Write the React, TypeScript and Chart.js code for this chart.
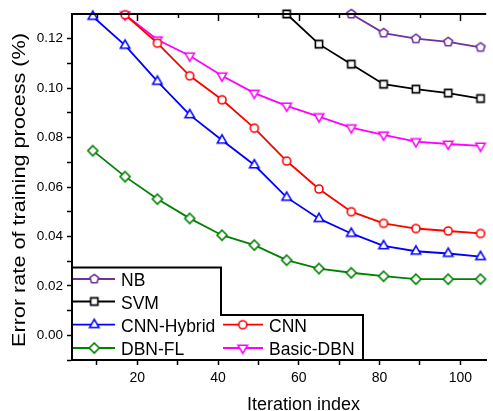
import React, { useEffect, useRef } from 'react';
import { Chart, registerables } from 'chart.js';

Chart.register(...registerables);

const iterations = [9, 17, 25, 33, 41, 49, 57, 65, 73, 81, 89, 97, 105];
const nbValues = [null, null, null, null, null, null, null, null, 0.13, 0.1223, 0.12, 0.1187, 0.1165];
const svmValues = [null, null, null, null, null, null, 0.13, 0.1178, 0.1097, 0.1016, 0.0996, 0.098, 0.0958];
const cnnHybridValues = [0.129, 0.1173, 0.1027, 0.0892, 0.0789, 0.0689, 0.0558, 0.0472, 0.0412, 0.0362, 0.034, 0.0331, 0.0318];
const cnnValues = [null, 0.1297, 0.1182, 0.105, 0.0953, 0.0838, 0.0705, 0.0592, 0.05, 0.0453, 0.0432, 0.0422, 0.0412];
const dbnFlValues = [0.0747, 0.0642, 0.0551, 0.0473, 0.0405, 0.0365, 0.0304, 0.027, 0.0253, 0.0239, 0.0227, 0.0227, 0.0227];
const basicDbnValues = [null, 0.1297, 0.1196, 0.1131, 0.105, 0.098, 0.0928, 0.0885, 0.084, 0.0811, 0.0784, 0.0774, 0.0766];

const seriesNames = ['NB', 'SVM', 'CNN-Hybrid', 'CNN', 'DBN-FL', 'Basic-DBN'];
const seriesValues = [nbValues, svmValues, cnnHybridValues, cnnValues, dbnFlValues, basicDbnValues];
const seriesColors = ['#7030A0', '#000000', '#0000FF', '#FF0000', '#008000', '#FF00FF'];
const seriesShapes = ['pentagon', 'square', 'triangle', 'circle', 'diamond', 'triangleDown'];

const xTicks = [10, 20, 30, 40, 50, 60, 70, 80, 90, 100];
const xTickLabels = [20, 40, 60, 80, 100];
const yTicks = [-0.01, 0, 0.01, 0.02, 0.03, 0.04, 0.05, 0.06, 0.07, 0.08, 0.09, 0.1, 0.11, 0.12];
const yTickLabels = [0, 0.02, 0.04, 0.06, 0.08, 0.1, 0.12];

const xTitle = 'Iteration index';
const yTitle = 'Error rate of training process (%)';

const FONT = "'Liberation Sans', Arial, sans-serif";

function makeMarker(shape: string, color: string): HTMLCanvasElement {
  const c = document.createElement('canvas');
  c.width = 16;
  c.height = 16;
  const g = c.getContext('2d') as CanvasRenderingContext2D;
  g.lineWidth = 1.6;
  g.strokeStyle = color;
  g.fillStyle = '#ffffff';
  const cx = 8;
  const cy = 8;
  g.beginPath();
  if (shape === 'circle') {
    g.arc(cx, cy, 4, 0, Math.PI * 2);
  } else if (shape === 'square') {
    g.rect(cx - 3.6, cy - 3.6, 7.2, 7.2);
  } else if (shape === 'diamond') {
    g.moveTo(cx, cy - 5);
    g.lineTo(cx + 5, cy);
    g.lineTo(cx, cy + 5);
    g.lineTo(cx - 5, cy);
  } else if (shape === 'triangle' || shape === 'triangleDown') {
    const r = 5.4;
    const s = shape === 'triangle' ? 1 : -1;
    g.moveTo(cx, cy - s * r);
    g.lineTo(cx + r * 0.866, cy + s * r / 2);
    g.lineTo(cx - r * 0.866, cy + s * r / 2);
  } else if (shape === 'pentagon') {
    const r = 4.6;
    for (let k = 0; k < 5; k++) {
      const a = (-90 + 72 * k) * Math.PI / 180;
      const px = cx + r * Math.cos(a);
      const py = cy + r * Math.sin(a);
      if (k === 0) g.moveTo(px, py);
      else g.lineTo(px, py);
    }
  }
  g.closePath();
  g.fill();
  g.stroke();
  return c;
}

export default function App() {
  const canvasRef = useRef<HTMLCanvasElement | null>(null);

  useEffect(() => {
    document.body.style.margin = '0';
    const canvas = canvasRef.current;
    if (!canvas) return;

    const markers = seriesShapes.map((s, i) => makeMarker(s, seriesColors[i]));

    const datasets = seriesNames.map((name, i) => ({
      label: name,
      data: iterations
        .map((x, j) => ({ x, y: seriesValues[i][j] }))
        .filter((p) => p.y !== null),
      borderColor: seriesColors[i],
      backgroundColor: seriesColors[i],
      borderWidth: 1.8,
      pointStyle: markers[i],
      pointRadius: 5,
      clip: false as any,
      tension: 0,
    }));

    const framePlugin = {
      id: 'frameAndLegend',
      afterDraw(chart: any) {
        const ctx: CanvasRenderingContext2D = chart.ctx;
        const ca = chart.chartArea;
        const xs = chart.scales.x;
        ctx.save();

        // top axis with inward ticks
        ctx.strokeStyle = '#000';
        ctx.lineWidth = 2;
        ctx.beginPath();
        ctx.moveTo(ca.left - 1, ca.top);
        ctx.lineTo(ca.right, ca.top);
        ctx.stroke();
        ctx.lineWidth = 1.5;
        xTicks.forEach((v) => {
          const px = Math.round(xs.getPixelForValue(v)) + 0.5;
          const len = xTickLabels.includes(v) ? 7 : 4;
          ctx.beginPath();
          ctx.moveTo(px, ca.top);
          ctx.lineTo(px, ca.top + len);
          ctx.stroke();
        });

        // legend box (step-shaped)
        const L = ca.left;
        const B = ca.bottom;
        const x1 = L + 149;
        const y1 = B - 92.5;
        const x2 = L + 291;
        const y2 = B - 45;
        ctx.fillStyle = '#fff';
        ctx.fillRect(L + 1, y1, x1 - L - 1, B - y1 - 1);
        ctx.fillRect(x1, y2, x2 - x1, B - y2 - 1);
        ctx.strokeStyle = '#000';
        ctx.lineWidth = 2;
        ctx.beginPath();
        ctx.moveTo(L, y1);
        ctx.lineTo(x1, y1);
        ctx.lineTo(x1, y2);
        ctx.lineTo(x2, y2);
        ctx.lineTo(x2, B);
        ctx.stroke();

        const entries = [
          { i: 0, col: 0, row: 0 },
          { i: 1, col: 0, row: 1 },
          { i: 2, col: 0, row: 2 },
          { i: 4, col: 0, row: 3 },
          { i: 3, col: 1, row: 2 },
          { i: 5, col: 1, row: 3 },
        ];
        const rowBase = [B - 74, B - 51.5, B - 28.3, B - 5];
        const cols = [
          { l0: L + 1, l1: L + 43, m: L + 22.3, t: L + 49 },
          { l0: L + 151, l1: L + 191, m: L + 170.7, t: L + 197 },
        ];
        ctx.font = `17.5px ${FONT}`;
        ctx.textBaseline = 'alphabetic';
        ctx.textAlign = 'left';
        entries.forEach((e) => {
          const c = cols[e.col];
          const base = rowBase[e.row];
          const ly = base - 7;
          ctx.strokeStyle = seriesColors[e.i];
          ctx.lineWidth = 1.8;
          ctx.beginPath();
          ctx.moveTo(c.l0, ly);
          ctx.lineTo(c.l1, ly);
          ctx.stroke();
          const mk = markers[e.i];
          ctx.drawImage(mk, c.m - mk.width / 2, ly - mk.height / 2);
          ctx.fillStyle = '#000';
          ctx.fillText(seriesNames[e.i], c.t, base);
        });

        // axis titles
        ctx.fillStyle = '#000';
        ctx.font = `17.5px ${FONT}`;
        ctx.textAlign = 'center';
        ctx.textBaseline = 'alphabetic';
        const xw = ctx.measureText(xTitle).width;
        ctx.save();
        ctx.translate(303.5, 410);
        ctx.scale(113 / xw, 1);
        ctx.fillText(xTitle, 0, 0);
        ctx.restore();

        const yw = ctx.measureText(yTitle).width;
        ctx.save();
        ctx.translate(25, 190);
        ctx.rotate(-Math.PI / 2);
        ctx.scale(314 / yw, 1);
        ctx.fillText(yTitle, 0, 0);
        ctx.restore();

        ctx.restore();
      },
    };

    const chart = new Chart(canvas, {
      type: 'line',
      data: { datasets: datasets as any },
      options: {
        animation: false,
        responsive: false,
        events: [],
        layout: { padding: { top: 14, left: 0, right: 0, bottom: 0 } },
        plugins: { legend: { display: false }, tooltip: { enabled: false } },
        scales: {
          x: {
            type: 'linear',
            min: 3.85,
            max: 106.4,
            afterFit: (s: any) => {
              s.height = 51;
            },
            afterBuildTicks: (s: any) => {
              s.ticks = xTicks.map((v) => ({ value: v }));
            },
            grid: { drawOnChartArea: false, tickLength: 5, tickWidth: 1.5, tickColor: '#000' },
            border: { display: true, color: '#000', width: 2 },
            ticks: {
              autoSkip: false,
              maxRotation: 0,
              padding: 5,
              color: '#000',
              font: { family: FONT, size: 14 },
              callback: (v: any) => (xTickLabels.includes(v) ? String(v) : ''),
            },
          },
          y: {
            type: 'linear',
            min: -0.01,
            max: 0.13,
            afterFit: (s: any) => {
              s.width = 72;
            },
            afterBuildTicks: (s: any) => {
              s.ticks = yTicks.map((v) => ({ value: v }));
            },
            grid: { drawOnChartArea: false, tickLength: 5, tickWidth: 1.5, tickColor: '#000' },
            border: { display: true, color: '#000', width: 2 },
            ticks: {
              autoSkip: false,
              padding: 4,
              color: '#000',
              font: { family: FONT, size: 13.5 },
              callback: (v: any) => (yTickLabels.includes(v) ? Number(v).toFixed(2) : ''),
            },
          },
        },
      },
      plugins: [framePlugin],
    });

    return () => {
      chart.destroy();
    };
  }, []);

  return (
    <div style={{ width: 493, height: 411, background: '#fff' }}>
      <canvas ref={canvasRef} width={493} height={411} />
    </div>
  );
}
